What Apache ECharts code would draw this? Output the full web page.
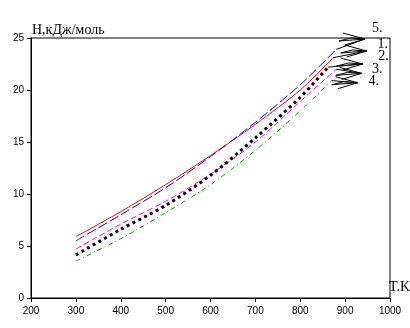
<!DOCTYPE html>
<html>
<head>
<meta charset="utf-8">
<script src="https://cdn.jsdelivr.net/npm/echarts@6/dist/echarts.min.js"></script>
<style>html,body{margin:0;padding:0;background:#fff;}#c{width:410px;height:328px;}</style>
</head>
<body>
<div id="c"></div>
<script>
// Temperature (K)
var temps = [300, 400, 500, 600, 700, 800];
// Series 1 (red, solid)
var s1 = [5.9, 8.3, 10.9, 13.7, 16.7, 20.0];
var s1End = [873, 23.1];
// Series 5 (blue, dashed)
var s5 = [5.5, 8.0, 10.6, 13.6, 16.9, 20.5];
var s5End = [880, 23.9];
// Series 2 (black, big dots)
var s2 = [4.15, 6.6, 8.9, 11.8, 15.4, 19.3];
var s2End = [862, 22.2];
// Series 3 (magenta, dashed)
var s3 = [4.7, 7.1, 9.3, 11.9, 15.0, 18.9];
var s3End = [880, 22.0];
// Series 4 (green, dash-dot)
var s4 = [3.55, 5.7, 8.2, 10.9, 14.2, 18.0];
var s4End = [870, 20.9];

var xTicks = [200, 300, 400, 500, 600, 700, 800, 900, 1000];
var yTicks = [0, 5, 10, 15, 20, 25];
var legendNames = ['5.', '1.', '2.', '3.', '4.'];
// arrow tips and label anchors (annotation positions, data space)
var arrowTips = [[944, 24.9], [948, 23.75], [939, 22.5], [937, 21.6], [928, 20.7]];
var labelPos = [[960, 25.9], [972, 24.4], [974, 23.2], [960, 22.0], [952, 20.8]];

function pts(arr, end) {
  var out = temps.map(function (t, i) { return [t, arr[i]]; });
  out.push(end);
  return out;
}

var chart = echarts.init(document.getElementById('c'), null, {renderer: 'canvas'});
var curveDefs = [
  {d: pts(s1, s1End), color: '#ff0000', type: 'solid', w: 1},
  {d: pts(s5, s5End), color: '#0000ff', type: [10, 3], w: 1},
  {d: pts(s3, s3End), color: '#ff00ff', type: [6, 3], w: 1},
  {d: pts(s2, s2End), color: '#000000', type: [3, 3.5], w: 3},
  {d: pts(s4, s4End), color: '#00b000', type: [5, 3, 1, 3], w: 1}
];
var ends = [s5End, s1End, s2End, s3End, s4End];

var series = curveDefs.map(function (c) {
  return {
    type: 'line', data: c.d, smooth: 0.3, symbol: 'none', silent: true,
    lineStyle: {color: c.color, type: c.type, width: c.w, cap: 'butt'}
  };
});

arrowTips.forEach(function (tip, i) {
  var e = ends[i];
  series.push({
    type: 'line', data: [e, tip], symbol: 'none', silent: true, smooth: false,
    lineStyle: {color: '#000', width: 1}
  });
});

chart.setOption({
  animation: false,
  grid: {left: 31, right: 20, top: 38, bottom: 30, show: true, borderColor: '#000', borderWidth: 1, backgroundColor: 'transparent'},
  xAxis: {
    type: 'value', min: 200, max: 1000, interval: 100,
    axisLine: {lineStyle: {color: '#000', width: 1}},
    axisTick: {show: true, length: 4, lineStyle: {color: '#000'}},
    axisLabel: {color: '#000', fontSize: 10, fontFamily: 'Liberation Sans, Arial', margin: 8,
      formatter: function (v) { return String(v); }},
    splitLine: {show: false}
  },
  yAxis: {
    type: 'value', min: 0, max: 25, interval: 5,
    axisLine: {show: true, lineStyle: {color: '#000', width: 1}},
    axisTick: {show: true, length: 4, lineStyle: {color: '#000'}},
    axisLabel: {color: '#000', fontSize: 10, fontFamily: 'Liberation Sans, Arial', margin: 7,
      formatter: function (v) { return String(v); }},
    splitLine: {show: false}
  },
  series: series
});

function addGraphics() {
  var g = [];
  // arrow heads (zigzag fan)
  arrowTips.forEach(function (tip) {
    var p = chart.convertToPixel({gridIndex: 0}, tip);
    g.push({type: 'polyline', silent: true, shape: {points: [
      [p[0] - 22, p[1] - 6], p, [p[0] - 14, p[1] - 1], [p[0] - 26, p[1] + 2], p, [p[0] - 20, p[1] + 6]
    ]}, style: {stroke: '#000', fill: null, lineWidth: 1}});
  });
  labelPos.forEach(function (lp, i) {
    var p = chart.convertToPixel({gridIndex: 0}, lp);
    g.push({type: 'text', silent: true, x: p[0], y: p[1], style: {
      text: legendNames[i], fill: '#000', font: '14px "Liberation Serif", serif',
      textAlign: 'left', textVerticalAlign: 'middle'}});
  });
  var topLeft = chart.convertToPixel({gridIndex: 0}, [200, 25]);
  g.push({type: 'text', silent: true, x: topLeft[0] + 1, y: topLeft[1] - 1, style: {
    text: 'H,кДж/моль', fill: '#000', font: '14px "Liberation Serif", serif',
    textAlign: 'left', textVerticalAlign: 'bottom'}});
  var br = chart.convertToPixel({gridIndex: 0}, [1000, 0]);
  g.push({type: 'text', silent: true, x: br[0] - 1, y: br[1] - 4, style: {
    text: 'T.K', fill: '#000', font: '14px "Liberation Serif", serif',
    textAlign: 'left', textVerticalAlign: 'bottom'}});
  chart.setOption({graphic: g});
}
addGraphics();
</script>
</body>
</html>
